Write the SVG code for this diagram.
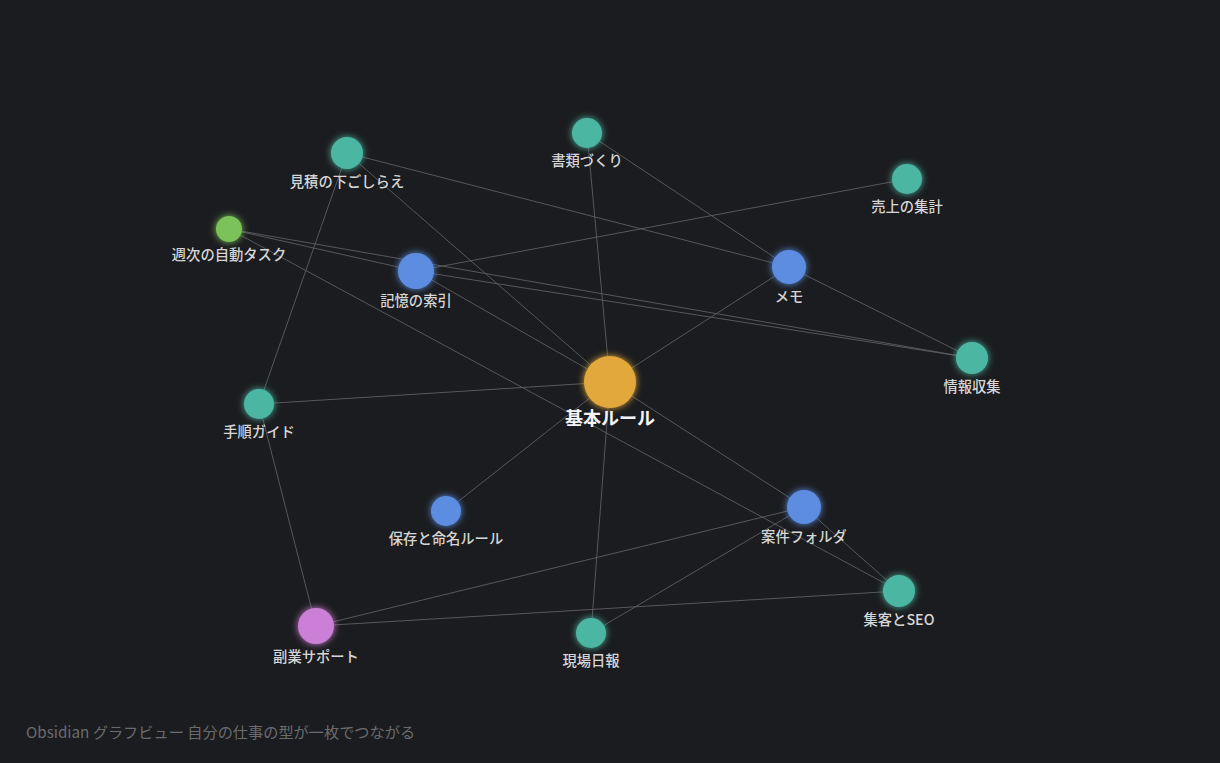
<svg xmlns="http://www.w3.org/2000/svg" width="1220" height="763" viewBox="0 0 1220 763">
<defs>
<filter id="glow" x="-60%" y="-60%" width="220%" height="220%">
<feGaussianBlur in="SourceGraphic" stdDeviation="3.5" result="b"/>
<feMerge><feMergeNode in="b"/><feMergeNode in="SourceGraphic"/></feMerge>
</filter>
<style>
.e{stroke:#606266;stroke-width:1;fill:none;opacity:0.85}
.lb{font-family:"Noto Sans CJK JP","Noto Sans",sans-serif;font-size:14.3px;font-weight:500;fill:#d6d6d6;text-anchor:middle}
.lbc{font-family:"Noto Sans CJK JP","Noto Sans",sans-serif;font-size:18px;font-weight:700;fill:#f4f4f4;text-anchor:middle}
.teal{fill:#4cb7a3}
.blue{fill:#5b8de0}
.green{fill:#7cc25a}
.pink{fill:#cc7fd6}
.gold{fill:#e2a83a}
circle{filter:url(#glow)}
</style>
</defs>
<rect width="1220" height="763" fill="#1b1c1f"/>
<g id="edges">
<line class="e" x1="347" y1="153" x2="610" y2="382"/>
<line class="e" x1="347" y1="153" x2="789" y2="267"/>
<line class="e" x1="347" y1="153" x2="259" y2="404"/>
<line class="e" x1="587" y1="133" x2="610" y2="382"/>
<line class="e" x1="587" y1="133" x2="789" y2="267"/>
<line class="e" x1="907" y1="179" x2="416" y2="271"/>
<line class="e" x1="229" y1="229" x2="972" y2="358"/>
<line class="e" x1="229" y1="229" x2="416" y2="271"/>
<line class="e" x1="229" y1="229" x2="899" y2="591"/>
<line class="e" x1="416" y1="271" x2="972" y2="358"/>
<line class="e" x1="416" y1="271" x2="610" y2="382"/>
<line class="e" x1="789" y1="267" x2="610" y2="382"/>
<line class="e" x1="789" y1="267" x2="972" y2="358"/>
<line class="e" x1="259" y1="404" x2="610" y2="382"/>
<line class="e" x1="259" y1="404" x2="316" y2="626"/>
<line class="e" x1="446" y1="511" x2="610" y2="382"/>
<line class="e" x1="610" y1="382" x2="804" y2="507"/>
<line class="e" x1="610" y1="382" x2="591" y2="633"/>
<line class="e" x1="804" y1="507" x2="316" y2="626"/>
<line class="e" x1="804" y1="507" x2="591" y2="633"/>
<line class="e" x1="804" y1="507" x2="899" y2="591"/>
<line class="e" x1="316" y1="626" x2="899" y2="591"/>
</g>
<g id="n-kihon"><circle class="gold" cx="610" cy="382" r="26"/><text class="lbc" x="610" y="425">基本ルール</text></g>
<g id="n-mitsumori"><circle class="teal" cx="347" cy="153" r="16"/><text class="lb" x="347" y="187">見積の下ごしらえ</text></g>
<g id="n-shorui"><circle class="teal" cx="587" cy="133" r="15"/><text class="lb" x="587" y="166">書類づくり</text></g>
<g id="n-uriage"><circle class="teal" cx="907" cy="179" r="15"/><text class="lb" x="907" y="212">売上の集計</text></g>
<g id="n-shuji"><circle class="green" cx="229" cy="229" r="13"/><text class="lb" x="229" y="260">週次の自動タスク</text></g>
<g id="n-kioku"><circle class="blue" cx="416" cy="271" r="18"/><text class="lb" x="416" y="306">記憶の索引</text></g>
<g id="n-memo"><circle class="blue" cx="789" cy="267" r="17"/><text class="lb" x="789" y="302">メモ</text></g>
<g id="n-joho"><circle class="teal" cx="972" cy="358" r="16"/><text class="lb" x="972" y="392">情報収集</text></g>
<g id="n-tejun"><circle class="teal" cx="259" cy="404" r="15"/><text class="lb" x="259" y="437">手順ガイド</text></g>
<g id="n-hozon"><circle class="blue" cx="446" cy="511" r="15"/><text class="lb" x="446" y="544">保存と命名ルール</text></g>
<g id="n-anken"><circle class="blue" cx="804" cy="507" r="17"/><text class="lb" x="804" y="542">案件フォルダ</text></g>
<g id="n-seo"><circle class="teal" cx="899" cy="591" r="16"/><text class="lb" x="899" y="625">集客とSEO</text></g>
<g id="n-fukugyo"><circle class="pink" cx="316" cy="626" r="18"/><text class="lb" x="316" y="662">副業サポート</text></g>
<g id="n-genba"><circle class="teal" cx="591" cy="633" r="15"/><text class="lb" x="591" y="666">現場日報</text></g>
<text x="26" y="738" font-family="Noto Sans CJK JP, Noto Sans, sans-serif" font-size="15.2" fill="#6a6b6e">Obsidian グラフビュー 自分の仕事の型が一枚でつながる</text>
</svg>
